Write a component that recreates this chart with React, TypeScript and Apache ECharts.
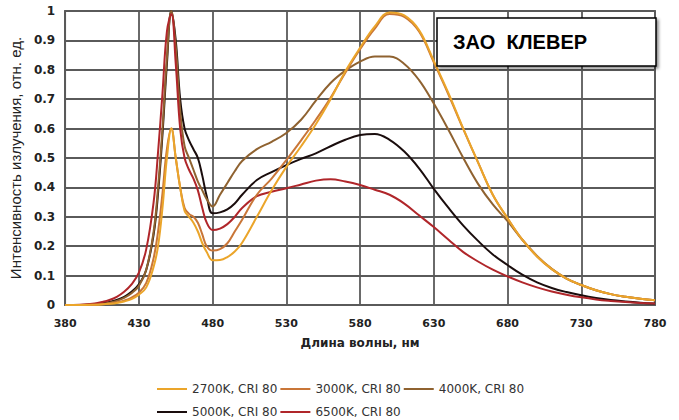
import React, { useEffect, useRef } from "react";
import * as echarts from "echarts";

// Wavelength samples (nm)
const WAVELENGTHS = [
  380, 390, 400, 405, 410, 415, 420, 425, 430, 435, 440, 443, 446, 449, 452, 455, 458, 461, 464, 467,
  470, 473, 476, 480, 485, 490, 495, 500, 510, 520, 530, 540, 550, 560, 570, 580, 590, 600, 610, 620,
  630, 640, 650, 660, 670, 680, 690, 700, 710, 720, 730, 740, 750, 760, 770, 780,
];

const SERIES_NAMES = ["2700K, CRI 80", "3000K, CRI 80", "4000K, CRI 80", "5000K, CRI 80", "6500K, CRI 80"];

const S2700 = [
  0, 0, 0.001, 0.002, 0.004, 0.007, 0.012, 0.02, 0.035, 0.06, 0.13, 0.2, 0.33, 0.5, 0.6, 0.5, 0.4, 0.32, 0.3, 0.28,
  0.25, 0.21, 0.18, 0.152, 0.153, 0.163, 0.182, 0.212, 0.3, 0.39, 0.47, 0.54, 0.615, 0.7, 0.795, 0.875, 0.948, 0.995, 0.985, 0.935,
  0.83, 0.72, 0.6, 0.485, 0.375, 0.295, 0.222, 0.165, 0.122, 0.09, 0.068, 0.05, 0.037, 0.028, 0.021, 0.016,
];
const S3000 = [
  0, 0, 0.001, 0.003, 0.005, 0.009, 0.015, 0.025, 0.042, 0.075, 0.16, 0.25, 0.38, 0.53, 0.6, 0.5, 0.4, 0.33, 0.31, 0.3,
  0.28, 0.24, 0.2, 0.185, 0.19, 0.21, 0.25, 0.29, 0.375, 0.43, 0.493, 0.56, 0.63, 0.705, 0.79, 0.87, 0.94, 0.99, 0.98, 0.93,
  0.825, 0.715, 0.598, 0.485, 0.375, 0.295, 0.222, 0.165, 0.122, 0.09, 0.068, 0.05, 0.037, 0.028, 0.021, 0.016,
];
const S4000 = [
  0, 0, 0.002, 0.004, 0.008, 0.014, 0.024, 0.04, 0.065, 0.12, 0.25, 0.4, 0.6, 0.84, 1.0, 0.88, 0.66, 0.54, 0.5, 0.46,
  0.42, 0.39, 0.36, 0.335, 0.375, 0.415, 0.455, 0.49, 0.53, 0.555, 0.585, 0.63, 0.695, 0.755, 0.797, 0.828, 0.845, 0.845, 0.82, 0.765,
  0.685, 0.595, 0.5, 0.412, 0.342, 0.285, 0.222, 0.167, 0.123, 0.09, 0.068, 0.05, 0.037, 0.028, 0.021, 0.016,
];
const S5000 = [
  0, 0, 0.003, 0.006, 0.01, 0.017, 0.028, 0.045, 0.07, 0.12, 0.24, 0.38, 0.58, 0.82, 1.0, 0.9, 0.7, 0.6, 0.56, 0.53,
  0.5, 0.44, 0.37, 0.312, 0.315, 0.325, 0.345, 0.375, 0.425, 0.452, 0.476, 0.497, 0.516, 0.54, 0.562, 0.578, 0.582, 0.562, 0.522, 0.465,
  0.395, 0.33, 0.27, 0.218, 0.172, 0.136, 0.103, 0.077, 0.058, 0.044, 0.033, 0.024, 0.017, 0.012, 0.008, 0.005,
];
const S6500 = [
  0, 0.001, 0.005, 0.01, 0.017, 0.028, 0.045, 0.07, 0.11, 0.19, 0.35, 0.52, 0.72, 0.93, 0.99, 0.82, 0.6, 0.5, 0.46, 0.43,
  0.39, 0.33, 0.28, 0.255, 0.26, 0.275, 0.3, 0.33, 0.37, 0.385, 0.397, 0.41, 0.423, 0.428, 0.42, 0.408, 0.392, 0.375, 0.345, 0.305,
  0.265, 0.222, 0.18, 0.148, 0.12, 0.097, 0.077, 0.06, 0.046, 0.035, 0.026, 0.019, 0.014, 0.01, 0.007, 0.005,
];

const X_MIN = 380;
const X_MAX = 780;
const X_STEP = 50;
const Y_MIN = 0;
const Y_MAX = 1;
const Y_STEP = 0.1;

const COLORS = ["#EBA52A", "#C97638", "#8F6230", "#1A0D0D", "#B0262A"];

export default function App() {
  const ref = useRef<HTMLDivElement>(null);

  useEffect(() => {
    if (!ref.current) return;
    const chart = echarts.init(ref.current, null, { renderer: "svg" });
    const allValues = [S2700, S3000, S4000, S5000, S6500];
    const zs = [7, 6, 5, 4, 5];
    const series = SERIES_NAMES.map((name, k) => ({
      name,
      type: "line",
      data: WAVELENGTHS.map((w, i) => [w - X_MIN, allValues[k][i]]),
      smooth: 0.4,
      symbol: "none",
      lineStyle: { color: COLORS[k], width: 2 },
      itemStyle: { color: COLORS[k] },
      z: zs[k],
    }));
    const gridColor = "#5a5a5a";
    const legendCommon = {
      left: 152,
      itemWidth: 30,
      itemHeight: 2,
      itemGap: 3,
      icon: "rect",
      textStyle: { fontFamily: "DejaVu Sans", fontSize: 12, color: "#333" },
    };
    chart.setOption({
      animation: false,
      backgroundColor: "#fff",
      grid: {
        left: 65,
        right: 24,
        top: 11,
        bottom: 115,
        show: true,
        borderColor: gridColor,
        borderWidth: 1.8,
      },
      xAxis: {
        type: "value",
        min: 0,
        max: X_MAX - X_MIN,
        interval: X_STEP,
        name: "Длина волны, нм",
        nameLocation: "middle",
        nameGap: 32,
        nameTextStyle: { fontFamily: "DejaVu Sans", fontWeight: "bold", fontSize: 12, color: "#222" },
        axisLine: { show: true, lineStyle: { color: gridColor, width: 1.8 } },
        axisTick: { show: false },
        axisLabel: {
          formatter: (v: number) => String(v + X_MIN),
          margin: 13,
          fontFamily: "DejaVu Sans",
          fontWeight: "bold",
          fontSize: 11,
          color: "#222",
        },
        splitLine: { show: true, lineStyle: { color: gridColor, width: 1.8 } },
      },
      yAxis: {
        type: "value",
        min: Y_MIN,
        max: Y_MAX,
        interval: Y_STEP,
        name: "Интенсивность излучения, отн. ед.",
        nameLocation: "middle",
        nameGap: 40,
        nameTextStyle: { fontFamily: "Liberation Sans", fontSize: 15, color: "#222" },
        axisLine: { show: true, lineStyle: { color: gridColor, width: 1.8 } },
        axisTick: { show: false },
        axisLabel: {
          formatter: (v: number) => String(Math.round(v * 10) / 10),
          margin: 10,
          fontFamily: "DejaVu Sans",
          fontWeight: "bold",
          fontSize: 12,
          color: "#222",
        },
        splitLine: { show: true, lineStyle: { color: gridColor, width: 1.8 } },
      },
      legend: [
        { ...legendCommon, top: 378, data: SERIES_NAMES.slice(0, 3) },
        { ...legendCommon, top: 401, data: SERIES_NAMES.slice(3) },
      ],
      graphic: [
        {
          type: "rect",
          z: 100,
          shape: { x: 437, y: 18, width: 219, height: 48 },
          style: {
            fill: "#fff",
            stroke: "#000",
            lineWidth: 1.5,
            shadowBlur: 3,
            shadowOffsetX: 2,
            shadowOffsetY: 2,
            shadowColor: "rgba(0,0,0,0.45)",
          },
        },
        {
          type: "text",
          z: 101,
          x: 453,
          y: 42,
          style: {
            text: "ЗАО  КЛЕВЕР",
            font: 'bold 20px "Liberation Sans"',
            fill: "#000",
            verticalAlign: "middle",
          },
        },
      ],
      series,
    });
    return () => chart.dispose();
  }, []);

  return (
    <div
      ref={ref}
      style={{ position: "fixed", left: 0, top: 0, width: 679, height: 420, background: "#fff" }}
    />
  );
}
